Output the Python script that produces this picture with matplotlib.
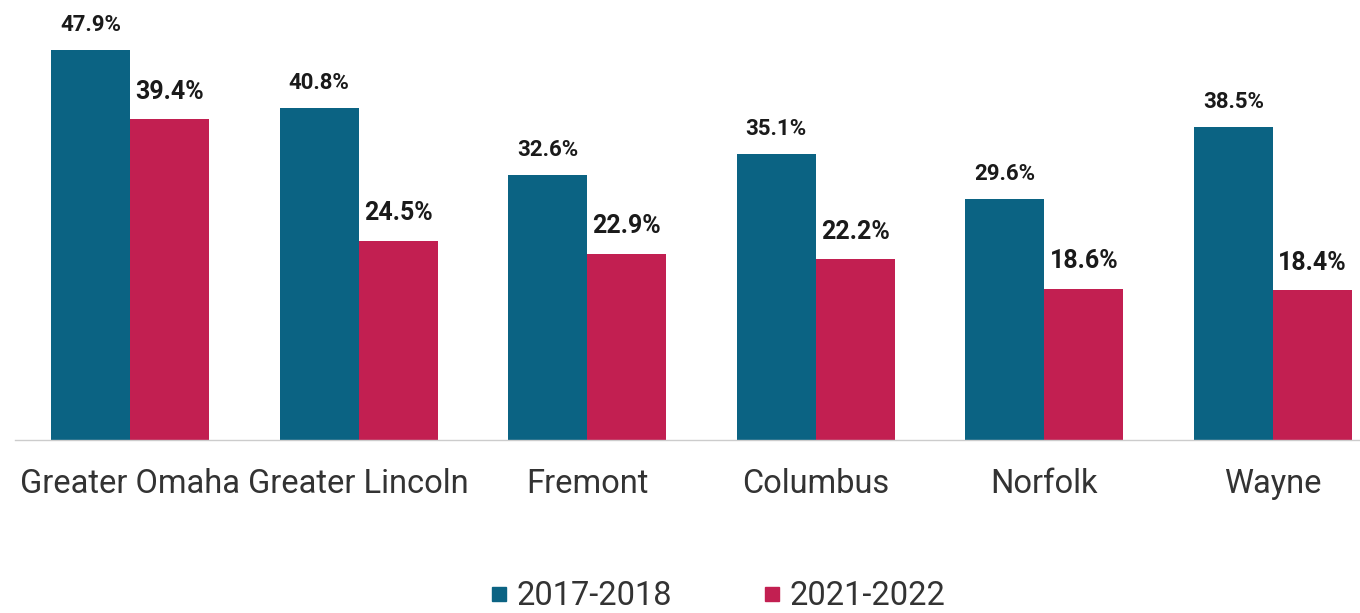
import matplotlib
matplotlib.use('Agg')
import matplotlib.pyplot as plt
from matplotlib.lines import Line2D
import numpy as np

plt.rcParams['font.family'] = ['Roboto', 'DejaVu Sans']

# Data
cities = ['Greater Omaha', 'Greater Lincoln', 'Fremont', 'Columbus', 'Norfolk', 'Wayne']
series_names = ['2017-2018', '2021-2022']
vals_2017 = [47.9, 40.8, 32.6, 35.1, 29.6, 38.5]
vals_2021 = [39.4, 24.5, 22.9, 22.2, 18.6, 18.4]

teal = '#0b6383'
red = '#c21f51'

fig = plt.figure(figsize=(13.6, 6.13), dpi=100)
ax = fig.add_axes([15 / 1360, (613 - 440) / 613, 1345 / 1360, 440 / 613])

x = np.arange(len(cities))
w = 0.346
b1 = ax.bar(x - w / 2, vals_2017, w, color=teal)
b2 = ax.bar(x + w / 2, vals_2021, w, color=red)

# value labels
for rect, v in zip(b1, vals_2017):
    ax.annotate(f'{v}%', (rect.get_x() + rect.get_width() / 2, v),
                xytext=(0, 10), textcoords='offset points', ha='center', va='bottom',
                fontsize=16, fontweight='bold', color='#1a1a1a')
for rect, v in zip(b2, vals_2021):
    ax.annotate(f'{v}%', (rect.get_x() + rect.get_width() / 2, v),
                xytext=(0, 11), textcoords='offset points', ha='center', va='bottom',
                fontsize=18, fontweight='bold', color='#1a1a1a')

ax.set_xlim(-(130 - 15) / 228.6, (1360 - 130) / 228.6)
ax.set_ylim(0, 440 / 8.142)
ax.set_xticks(x)
ax.set_xticklabels(cities, fontsize=23.5, color='#333333')
ax.tick_params(axis='x', length=0, pad=20)
ax.set_yticks([])
for s in ['top', 'right', 'left']:
    ax.spines[s].set_visible(False)
ax.spines['bottom'].set_color('#cccccc')
ax.spines['bottom'].set_linewidth(1)

handles = [Line2D([], [], marker='s', linestyle='none', markersize=10, color=teal),
           Line2D([], [], marker='s', linestyle='none', markersize=10, color=red)]
fig.legend(handles, series_names, loc='center', bbox_to_anchor=(718 / 1360, 17 / 613),
           ncol=2, frameon=False, fontsize=23.5, handlelength=0.5, handletextpad=0.3,
           columnspacing=2.8, labelcolor='#333333', borderpad=0, borderaxespad=0)

fig.savefig('out.png', dpi=100, facecolor='white')
